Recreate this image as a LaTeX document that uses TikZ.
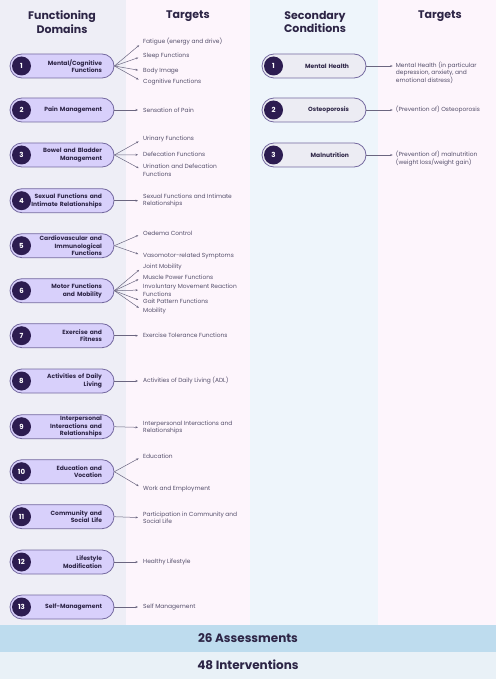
\documentclass[tikz,border=0pt]{standalone}
\usepackage{fontspec}
\setmainfont{Poppins}
\usetikzlibrary{arrows.meta}
\definecolor{hdrcol}{HTML}{2D2546}
\definecolor{pillfill}{HTML}{D8D0FB}
\definecolor{rpillfill}{HTML}{ECECF3}
\definecolor{pillborder}{HTML}{74699F}
\definecolor{numfill}{HTML}{2C1C50}
\definecolor{tgtcol}{HTML}{544E6A}
\definecolor{arrcol}{HTML}{6B6680}
\definecolor{colA}{HTML}{EEEEF6}
\definecolor{colB}{HTML}{FDF5FC}
\definecolor{colC}{HTML}{EEF5FB}
\definecolor{barA}{HTML}{BEDCEE}
\definecolor{barB}{HTML}{E9F1F7}
\begin{document}
\begin{tikzpicture}[x=1pt,y=-1pt,
  hdr/.style={font=\fontsize{11}{13.3}\selectfont\bfseries, align=center, text=hdrcol, inner sep=0pt},
  pill/.style={draw=pillborder, line width=0.8pt, fill=pillfill, rounded corners=12pt,
    minimum width=104pt, minimum height=24pt, inner xsep=12pt, inner ysep=0pt,
    text width=80pt, align=right, font=\fontsize{6}{7.6}\selectfont\bfseries, text=hdrcol},
  rpill/.style={pill, fill=rpillfill, inner xsep=17pt, text width=70pt},
  num/.style={circle, fill=numfill, text=white, minimum size=19pt, inner sep=0pt,
    font=\fontsize{7}{8}\selectfont\bfseries},
  tgt/.style={anchor=west, align=left, inner xsep=0pt, inner ysep=0.5pt,
    font=\fontsize{5.9}{7.6}\selectfont, text=tgtcol},
  arr/.style={draw=arrcol, line width=0.5pt, -{Stealth[length=2.5pt,width=2pt]}, shorten >=5pt},
  rarr/.style={arr, shorten >=3pt},
  bar/.style={font=\fontsize{12}{14}\selectfont\bfseries, text=hdrcol, inner sep=0pt}
]
\useasboundingbox (0,0) rectangle (496,679);
\fill[colA] (0,0) rectangle (126,625);
\fill[colB] (126,0) rectangle (250,625);
\fill[colC] (250,0) rectangle (378,625);
\fill[colB] (378,0) rectangle (496,625);
\fill[barA] (0,625) rectangle (496,652);
\fill[barB] (0,652) rectangle (496,679);

% headers
\node[hdr] (h1) at (62,22) {Functioning\\Domains};
\node[hdr] (h2) at (188,16) {Targets};
\node[hdr] (h3) at (315,22) {Secondary\\Conditions};
\node[hdr] (h4) at (440,16) {Targets};

% left pills
\node[pill] (p1) at (62,66) {Mental/Cognitive\\Functions};
\node[pill] (p2) at (62,110) {Pain Management};
\node[pill] (p3) at (62,155) {Bowel and Bladder\\Management};
\node[pill] (p4) at (62,200.7) {Sexual Functions and\\Intimate Relationships};
\node[pill] (p5) at (62,245.7) {Cardiovascular and\\Immunological\\Functions};
\node[pill] (p6) at (62,290.7) {Motor Functions\\and Mobility};
\node[pill] (p7) at (62,335.7) {Exercise and\\Fitness};
\node[pill] (p8) at (62,381) {Activities of Daily\\Living};
\node[pill] (p9) at (62,426.7) {Interpersonal\\Interactions and\\Relationships};
\node[pill] (p10) at (62,471.7) {Education and\\Vocation};
\node[pill] (p11) at (62,516.7) {Community and\\Social Life};
\node[pill] (p12) at (62,562) {Lifestyle\\Modification};
\node[pill] (p13) at (62,607) {Self-Management};

\node[num] (n1) at (21.5,66) {1};
\node[num] (n2) at (21.5,110) {2};
\node[num] (n3) at (21.5,155) {3};
\node[num] (n4) at (21.5,200.7) {4};
\node[num] (n5) at (21.5,245.7) {5};
\node[num] (n6) at (21.5,290.7) {6};
\node[num] (n7) at (21.5,335.7) {7};
\node[num] (n8) at (21.5,381) {8};
\node[num] (n9) at (21.5,426.7) {9};
\node[num] (n10) at (21.5,471.7) {10};
\node[num] (n11) at (21.5,516.7) {11};
\node[num] (n12) at (21.5,562) {12};
\node[num] (n13) at (21.5,607) {13};

% left targets
\node[tgt] (t1a) at (143,42) {Fatigue (energy and drive)};
\node[tgt] (t1b) at (143,56) {Sleep Functions};
\node[tgt] (t1c) at (143,71) {Body Image};
\node[tgt] (t1d) at (143,82) {Cognitive Functions};
\node[tgt] (t2a) at (143,110) {Sensation of Pain};
\node[tgt] (t3a) at (143,139) {Urinary Functions};
\node[tgt] (t3b) at (143,154.7) {Defecation Functions};
\node[tgt] (t3c) at (143,170.5) {Urination and Defecation\\Functions};
\node[tgt] (t4a) at (143,200.7) {Sexual Functions and Intimate\\Relationships};
\node[tgt] (t5a) at (143,233.3) {Oedema Control};
\node[tgt] (t5b) at (143,255.7) {Vasomotor-related Symptoms};
\node[tgt] (t6a) at (143,266.7) {Joint Mobility};
\node[tgt] (t6b) at (143,277.3) {Muscle Power Functions};
\node[tgt] (t6c) at (143,290) {Involuntary Movement Reaction\\Functions};
\node[tgt] (t6d) at (143,301.7) {Gait Pattern Functions};
\node[tgt] (t6e) at (143,310.7) {Mobility};
\node[tgt] (t7a) at (143,335.7) {Exercise Tolerance Functions};
\node[tgt] (t8a) at (143,381) {Activities of Daily Living (ADL)};
\node[tgt] (t9a) at (143,427.5) {Interpersonal Interactions and\\Relationships};
\node[tgt] (t10a) at (143,456) {Education};
\node[tgt] (t10b) at (143,488.7) {Work and Employment};
\node[tgt] (t11a) at (143,517.7) {Participation in Community and\\Social Life};
\node[tgt] (t12a) at (143,562) {Healthy Lifestyle};
\node[tgt] (t13a) at (143,607) {Self Management};

\foreach \p/\t in {p1/t1a,p1/t1b,p1/t1c,p1/t1d,p2/t2a,p3/t3a,p3/t3b,p3/t3c,p4/t4a,
  p5/t5a,p5/t5b,p6/t6a,p6/t6b,p6/t6c,p6/t6d,p6/t6e,p7/t7a,p8/t8a,p9/t9a,
  p10/t10a,p10/t10b,p11/t11a,p12/t12a,p13/t13a}
  \draw[arr] (\p.east) -- (\t.west);

% right pills
\node[rpill] (r1) at (314,66) {Mental Health};
\node[rpill] (r2) at (314,110) {Osteoporosis};
\node[rpill] (r3) at (314,155) {Malnutrition};
\node[num] (rn1) at (273.5,66) {1};
\node[num] (rn2) at (273.5,110) {2};
\node[num] (rn3) at (273.5,155) {3};

\node[tgt] (rt1) at (395.7,72.7) {Mental Health (in particular\\depression, anxiety, and\\emotional distress)};
\node[tgt] (rt2) at (395.7,110) {(Prevention of) Osteoporosis};
\node[tgt] (rt3) at (395.7,158.8) {(Prevention of) malnutrition\\(weight loss/weight gain)};

\draw[rarr] (r1.east) -- (r1.east -| rt1.west);
\draw[rarr] (r2.east) -- (r2.east -| rt2.west);
\draw[rarr] (r3.east) -- (r3.east -| rt3.west);

% bottom bars
\node[bar] (b1) at (248,638) {26 Assessments};
\node[bar] (b2) at (248,665) {48 Interventions};
\end{tikzpicture}
\end{document}
